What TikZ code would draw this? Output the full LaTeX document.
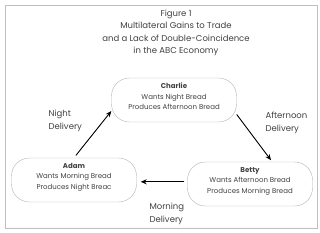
\documentclass[tikz,border=0pt]{standalone}
\usepackage{fontspec}
\setmainfont{Poppins}
\usetikzlibrary{arrows.meta,positioning,calc}
\usepackage{xcolor}
\definecolor{ink}{gray}{0.25}

\begin{document}
\begin{tikzpicture}[
  x=1pt, y=-1pt,
  font=\fontsize{7}{10.5}\selectfont,
  person/.style={draw=black!30, rounded corners=18pt, minimum width=125pt, minimum height=44pt,
    align=center, inner sep=2pt, text=ink},
  deliv/.style={font=\fontsize{8.5}{13}\selectfont, text=ink, align=left, anchor=west},
  heading/.style={font=\fontsize{8.5}{12.5}\selectfont, text=ink, align=center},
  >={Stealth[length=6pt, width=5pt]}
]
\useasboundingbox (0,0) rectangle (320,232);
\draw[black!25, line width=0.9pt] (5,5) rectangle (317,228);

\node[heading] (title) at (176,33) {Figure 1\\Multilateral Gains to Trade\\and a Lack of Double-Coincidence\\in the ABC Economy};

% Traders
\node[person] (charlie) at (174,100) {\textbf{Charlie}\\Wants Night Bread\\Produces Afternoon Bread\\[-3pt]};
\node[person] (adam) at (74,180) {\textbf{Adam}\\Wants Morning Bread\\Produces Night Breac\\[-3pt]};
\node[person] (betty) at (250,184) {\textbf{Betty}\\Wants Afternoon Bread\\Produces Morning Bread\\[-3pt]};

% Deliveries
\draw[->, line width=0.9pt, shorten <=3pt] (adam.north) -- (charlie.190);
\draw[->, line width=0.9pt, shorten >=2pt] (charlie.-13) -- (betty.45);
\draw[->, line width=0.9pt, shorten <=3pt, shorten >=4pt] (betty.178) -- (betty.178 -| adam.east);

\node[deliv] (night) at (45,121) {Night\\Delivery};
\node[deliv] (afternoon) at (262,123) {Afternoon\\Delivery};
\node[deliv] (morning) at (146,214) {Morning\\Delivery};
\end{tikzpicture}
\end{document}
